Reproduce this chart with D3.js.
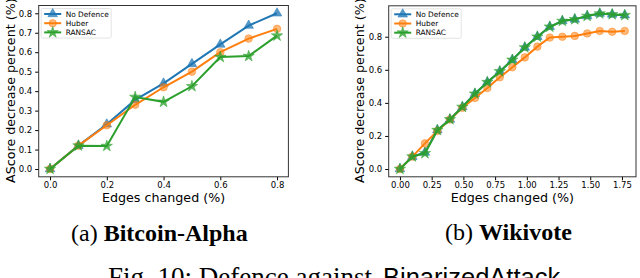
<!DOCTYPE html>
<html>
<head>
<meta charset="utf-8">
<script src="https://cdn.jsdelivr.net/npm/d3@7"></script>
<style>
  body { margin: 0; background: #fff; }
  svg { display: block; }
  .tick text { font-family: "DejaVu Sans", sans-serif; font-size: 8.5px; fill: #000; }
  .axis-label { font-family: "DejaVu Sans", sans-serif; font-size: 12.7px; fill: #000; }
  .legend text { font-family: "DejaVu Sans", sans-serif; font-size: 7.4px; fill: #000; }
  .caption { font-family: "Liberation Serif", "Times New Roman", serif; font-size: 24px; fill: #000; }
</style>
</head>
<body>
<script>
// Data: (a) Bitcoin-Alpha
const alphaX = [0, 0.1, 0.2, 0.3, 0.4, 0.5, 0.6, 0.7, 0.8];
const alphaNoDef = [0, 0.12, 0.23, 0.355, 0.44, 0.54, 0.64, 0.737, 0.80];
const alphaHuber = [0, 0.12, 0.225, 0.33, 0.42, 0.50, 0.60, 0.67, 0.72];
const alphaRansac = [0, 0.12, 0.118, 0.37, 0.345, 0.425, 0.575, 0.58, 0.685];
const alphaXTicks = [0, 0.2, 0.4, 0.6, 0.8];
const alphaYTicks = [0, 0.1, 0.2, 0.3, 0.4, 0.5, 0.6, 0.7, 0.8];

// Data: (b) Wikivote
const wikiX = [0, 0.098, 0.197, 0.295, 0.394, 0.492, 0.591, 0.689, 0.787, 0.886,
  0.984, 1.083, 1.181, 1.28, 1.378, 1.476, 1.575, 1.673, 1.772];
const wikiNoDef = [0, 0.075, 0.1, 0.235, 0.30, 0.375, 0.455, 0.525, 0.59, 0.66,
  0.735, 0.80, 0.86, 0.895, 0.905, 0.925, 0.94, 0.935, 0.93];
const wikiHuber = [0, 0.075, 0.155, 0.23, 0.30, 0.37, 0.43, 0.49, 0.555, 0.615,
  0.675, 0.74, 0.795, 0.80, 0.805, 0.82, 0.835, 0.83, 0.835];
const wikiRansac = [0, 0.075, 0.095, 0.235, 0.30, 0.375, 0.455, 0.525, 0.59, 0.66,
  0.735, 0.80, 0.86, 0.895, 0.905, 0.925, 0.94, 0.935, 0.93];
const wikiXTicks = [0, 0.25, 0.5, 0.75, 1.0, 1.25, 1.5, 1.75];
const wikiYTicks = [0, 0.2, 0.4, 0.6, 0.8];

const seriesNames = ["No Defence", "Huber", "RANSAC"];
const colors = ["#1f77b4", "#ff7f0e", "#2ca02c"];
const symbols = [d3.symbolTriangle, d3.symbolCircle, d3.symbolStar];
const symSizes = [40, 45, 40];

const svg = d3.select("body").append("svg")
  .attr("width", 640)
  .attr("height", 278);

function drawPanel(cfg) {
  const x = d3.scaleLinear().domain(cfg.xDomain).range([cfg.left, cfg.right]);
  const y = d3.scaleLinear().domain(cfg.yDomain).range([cfg.bottom, cfg.top]);
  const g = svg.append("g");

  g.append("g")
    .attr("transform", `translate(0,${cfg.bottom})`)
    .call(d3.axisBottom(x).tickValues(cfg.xTicks).tickFormat(d3.format(cfg.xFmt)).tickSize(3.5).tickPadding(2))
    .call(a => a.select(".domain").remove());
  g.append("g")
    .attr("transform", `translate(${cfg.left},0)`)
    .call(d3.axisLeft(y).tickValues(cfg.yTicks).tickFormat(d3.format(".1f")).tickSize(3.5).tickPadding(3))
    .call(a => a.select(".domain").remove());

  const line = d3.line().x(d => x(d[0])).y(d => y(d[1]));
  cfg.series.forEach((vals, i) => {
    const pts = cfg.xs.map((xv, j) => [xv, vals[j]]);
    g.append("path")
      .datum(pts)
      .attr("fill", "none")
      .attr("stroke", colors[i])
      .attr("stroke-width", 2)
      .attr("d", line);
    g.selectAll(null).data(pts).enter().append("path")
      .attr("transform", d => `translate(${x(d[0])},${y(d[1])})`)
      .attr("d", d3.symbol().type(symbols[i]).size(symSizes[i]))
      .attr("fill", colors[i])
      .attr("fill-opacity", i === 1 ? 0.55 : 0.75)
      .attr("stroke", colors[i])
      .attr("stroke-opacity", 0.6)
      .attr("stroke-width", 0.8);
  });

  g.append("rect")
    .attr("x", cfg.left).attr("y", cfg.top)
    .attr("width", cfg.right - cfg.left).attr("height", cfg.bottom - cfg.top)
    .attr("fill", "none").attr("stroke", "#333").attr("stroke-width", 1);

  // legend
  const lg = g.append("g").attr("class", "legend")
    .attr("transform", `translate(${cfg.left + 2.5},${cfg.top + 3})`);
  lg.append("rect")
    .attr("width", 70).attr("height", 29.5).attr("rx", 1.5)
    .attr("fill", "#fff").attr("fill-opacity", 0.8)
    .attr("stroke", "#ddd").attr("stroke-width", 0.8);
  seriesNames.forEach((name, i) => {
    const ly = 5.5 + i * 9.2;
    lg.append("line")
      .attr("x1", 3).attr("x2", 20).attr("y1", ly).attr("y2", ly)
      .attr("stroke", colors[i]).attr("stroke-width", 2);
    lg.append("path")
      .attr("transform", `translate(11.5,${ly})`)
      .attr("d", d3.symbol().type(symbols[i]).size(symSizes[i]))
      .attr("fill", colors[i]).attr("fill-opacity", i === 1 ? 0.55 : 0.75)
      .attr("stroke", colors[i]).attr("stroke-opacity", 0.6).attr("stroke-width", 0.8);
    lg.append("text")
      .attr("x", 24.5).attr("y", ly).attr("dy", "0.35em")
      .text(name);
  });

  g.append("text")
    .attr("class", "axis-label")
    .attr("x", (cfg.left + cfg.right) / 2)
    .attr("y", 202)
    .attr("text-anchor", "middle")
    .text("Edges changed (%)");
  g.append("text")
    .attr("class", "axis-label")
    .attr("transform", `translate(${cfg.yLabelX},183) rotate(-90)`)
    .attr("text-anchor", "start")
    .text("AScore decrease percent (%)");
}

drawPanel({
  xs: alphaX, series: [alphaNoDef, alphaHuber, alphaRansac],
  xDomain: [-0.04, 0.84], yDomain: [-0.04, 0.84],
  left: 38.7, right: 288.4, top: 5.5, bottom: 176.8,
  xTicks: alphaXTicks, yTicks: alphaYTicks, xFmt: ".1f", yLabelX: 14.5
});

drawPanel({
  xs: wikiX, series: [wikiNoDef, wikiHuber, wikiRansac],
  xDomain: [-0.0886, 1.8606], yDomain: [-0.047, 0.987],
  left: 388.7, right: 636, top: 5.8, bottom: 176.8,
  xTicks: wikiXTicks, yTicks: wikiYTicks, xFmt: ".2f", yLabelX: 363.5
});

// captions
const capA = svg.append("text").attr("class", "caption").attr("x", 71).attr("y", 241);
capA.append("tspan").text("(a) ");
capA.append("tspan").attr("font-weight", "bold").text("Bitcoin-Alpha");
const capB = svg.append("text").attr("class", "caption").attr("x", 445).attr("y", 240);
capB.append("tspan").text("(b) ");
capB.append("tspan").attr("font-weight", "bold").text("Wikivote");
const fig = svg.append("text").attr("class", "caption")
  .attr("x", 108).attr("y", 286).style("font-size", "27px");
fig.append("tspan").text("Fig. 10: Defence against ");
fig.append("tspan").attr("x", 383)
  .attr("font-family", "'Liberation Sans', sans-serif").style("font-size", "25.5px")
  .text("BinarizedAttack");
</script>
</body>
</html>
